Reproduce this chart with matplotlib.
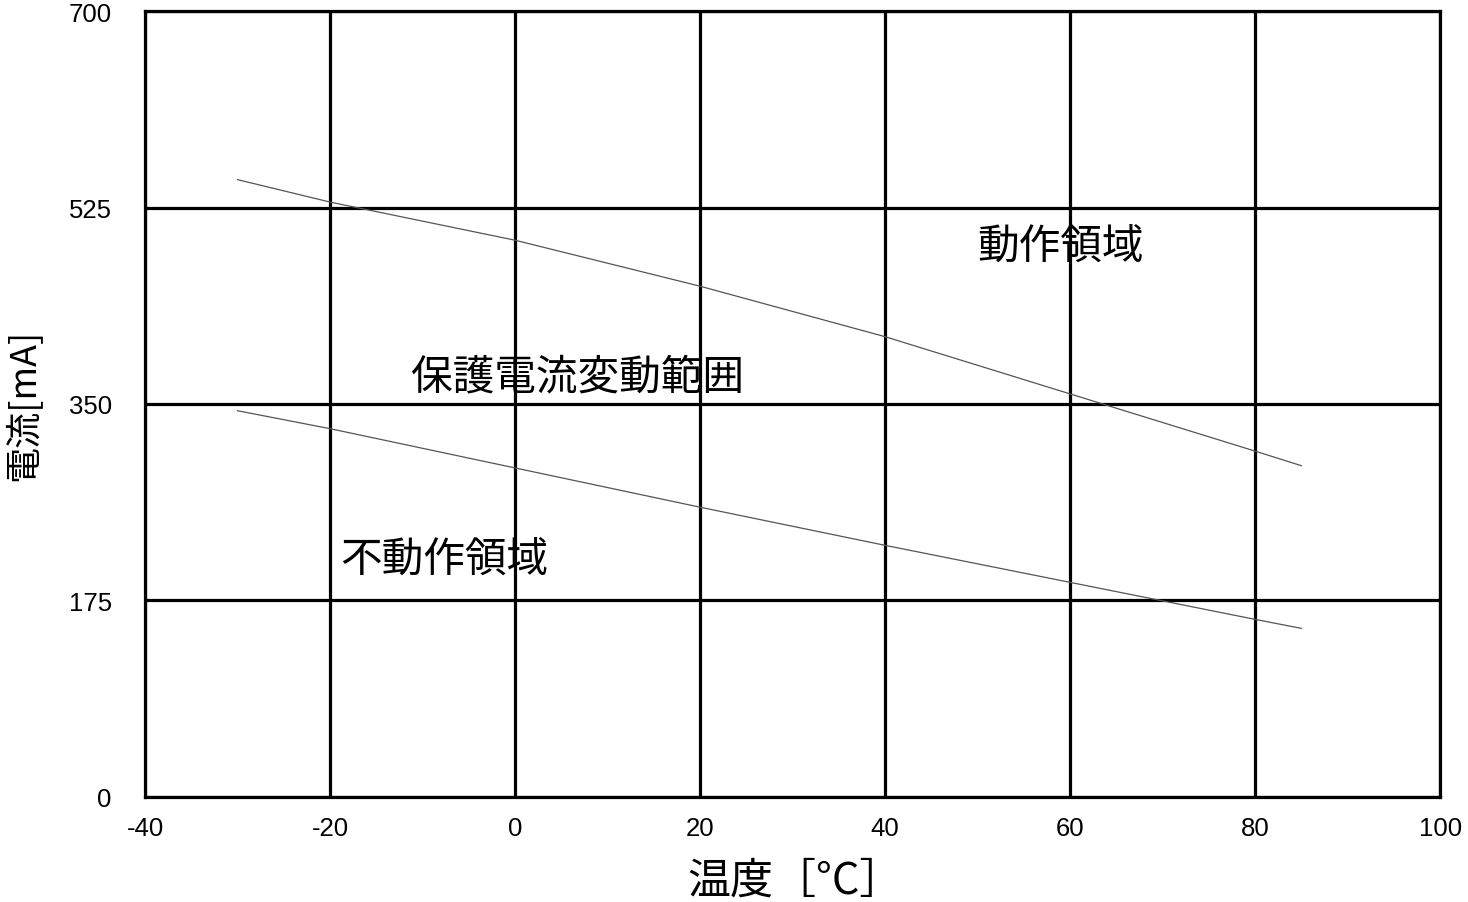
import matplotlib
matplotlib.use("Agg")
import matplotlib.pyplot as plt

# temperature [degC] and current [mA]
temps = [-30, -20, 0, 20, 40, 60, 80, 85]
upper_ma = [550, 530, 496, 455, 410, 359, 308, 295]
lower_ma = [344, 328, 293, 258, 224, 191, 158, 150]

x_ticks = [-40, -20, 0, 20, 40, 60, 80, 100]
y_ticks = [0, 175, 350, 525, 700]

jp = ["Noto Sans CJK JP", "DejaVu Sans"]
plt.rcParams["axes.unicode_minus"] = False

fig = plt.figure(figsize=(14.68, 9.03), dpi=100)
ax = fig.add_axes([0.0988, 0.1167, 0.8822, 0.8696])

ax.plot(temps, upper_ma, color="#555555", linewidth=0.9)
ax.plot(temps, lower_ma, color="#555555", linewidth=0.9)

ax.set_xlim(-40, 100)
ax.set_ylim(0, 700)
ax.set_xticks(x_ticks)
ax.set_yticks(y_ticks)
ax.grid(True, color="black", linewidth=2.3)
ax.set_axisbelow(True)
for s in ax.spines.values():
    s.set_linewidth(2.3)

ax.tick_params(axis="both", length=0, labelsize=18.5)
ax.tick_params(axis="x", pad=14)
ax.tick_params(axis="y", pad=24)
for lbl in ax.get_xticklabels() + ax.get_yticklabels():
    lbl.set_family("Liberation Sans")

# axis titles placed by hand
fig.text(795 / 1468, 1 - 882 / 903, "温度［°C］", family=jp, fontsize=31,
         ha="center", va="center")
fig.text(24 / 1468, 1 - 405 / 903, "電流[mA]", family=jp, fontsize=26,
         ha="center", va="center", rotation=90)

# region labels
ax.text(50, 491, "動作領域", family=jp, fontsize=30, va="center", ha="left")
ax.text(-11.2, 374, "保護電流変動範囲", family=jp, fontsize=30, va="center", ha="left")
ax.text(-18.9, 212, "不動作領域", family=jp, fontsize=30, va="center", ha="left")

fig.savefig("out.png", dpi=100)
